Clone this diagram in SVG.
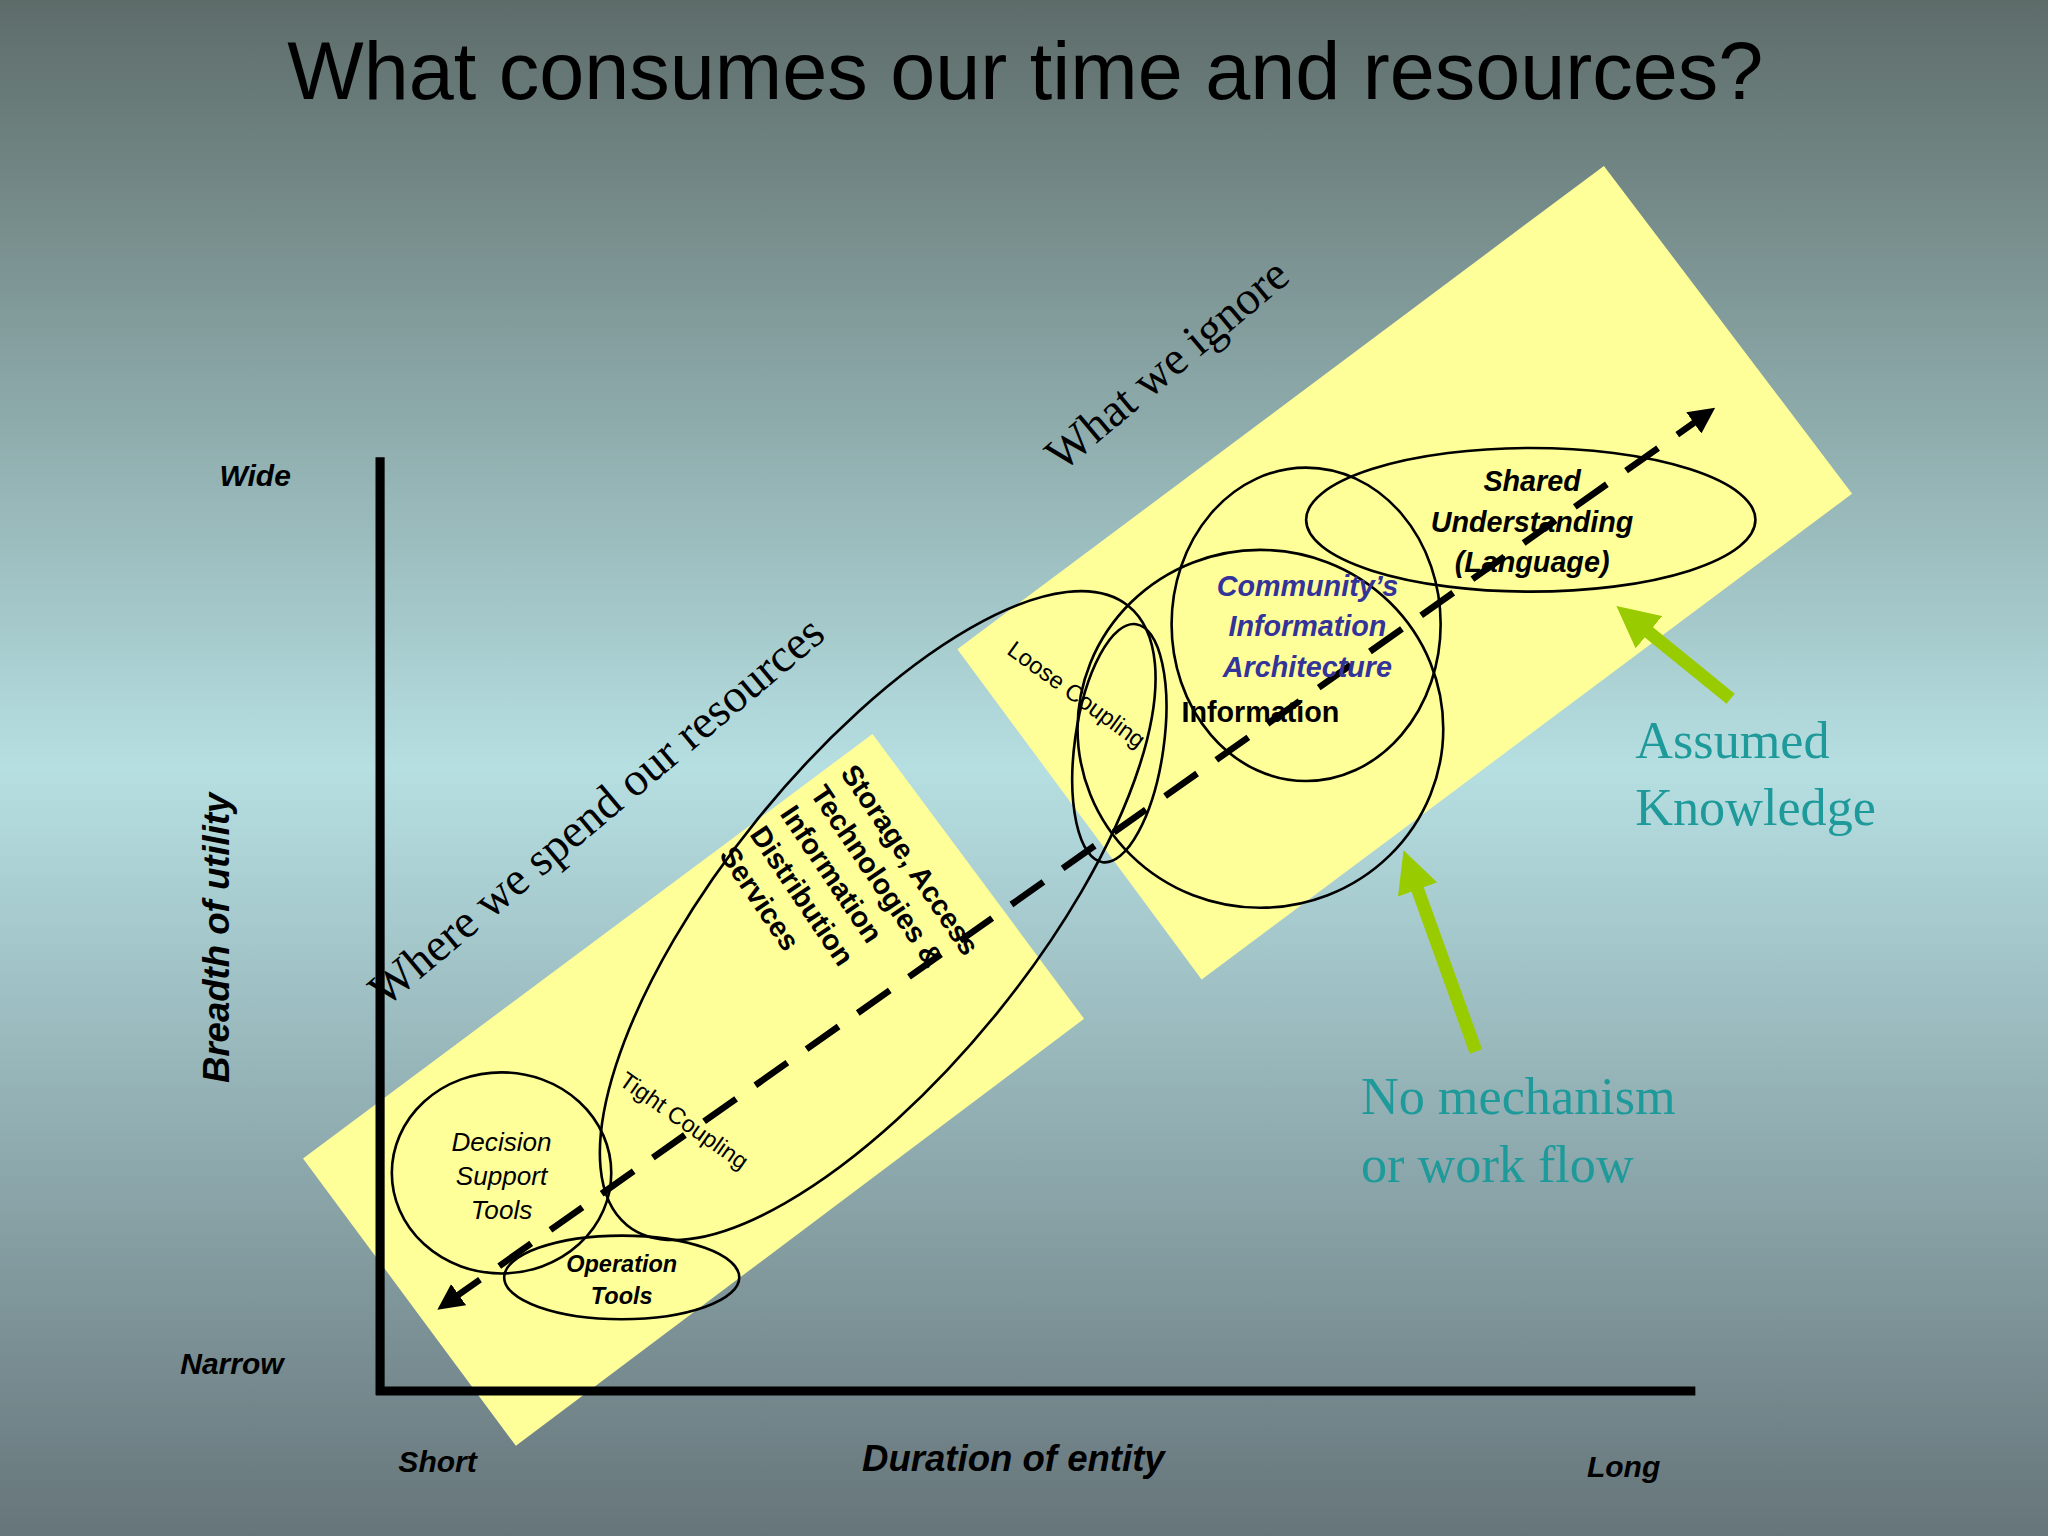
<svg xmlns="http://www.w3.org/2000/svg" width="2048" height="1536" viewBox="0 0 2048 1536">
<defs>
<linearGradient id="bg" x1="0" y1="0" x2="0" y2="1">
<stop offset="0" stop-color="#5d6c69"/>
<stop offset="0.5" stop-color="#b6dfe2"/>
<stop offset="1" stop-color="#66757a"/>
</linearGradient>
<marker id="ah" viewBox="0 0 10 10" refX="5" refY="5" markerWidth="4" markerHeight="4" orient="auto-start-reverse" markerUnits="strokeWidth"><path d="M0,0 L10,5 L0,10 z" fill="#000"/></marker>
<marker id="gh" viewBox="0 0 10 10" refX="5" refY="5" markerWidth="3.2" markerHeight="3.2" orient="auto" markerUnits="strokeWidth"><path d="M0,0 L10,5 L0,10 z" fill="#99cc00"/></marker>
<style>
.e{fill:none;stroke:#000;stroke-width:2}
.b{font-family:"Liberation Sans",Arial,sans-serif;font-weight:bold;font-style:italic}
.s{font-family:"Liberation Serif","Times New Roman",serif}
.t{font-family:"Liberation Serif","Times New Roman",serif;fill:#1f9a9a;font-size:40px}
</style>
</defs>
<rect width="2048" height="1536" fill="url(#bg)"/>
<g transform="scale(1.30612)">
<g id="bands">
<polygon points="232,887 668,562 830,780 395,1107" fill="#ffff99"/>
<polygon points="733,497 1228,127 1418,378 920,750" fill="#ffff99"/>
</g>
<text x="785" y="76" text-anchor="middle" font-family="Liberation Sans,Arial,sans-serif" font-size="62" fill="#000">What consumes our time and resources?</text>
<g id="axes" stroke="#000" stroke-width="7">
<line x1="291" y1="350" x2="291" y2="1068"/>
<line x1="288" y1="1065" x2="1298" y2="1065"/>
</g>
<g id="axis-labels" class="b" font-size="23">
<text x="168" y="372">Wide</text>
<text x="138" y="1052">Narrow</text>
<text x="305" y="1127">Short</text>
<text x="1215" y="1131">Long</text>
<text x="660" y="1126" font-size="28">Duration of entity</text>
<text transform="translate(175,718) rotate(-90)" text-anchor="middle" font-size="28">Breadth of utility</text>
</g>
<g id="connectors">
<line x1="343" y1="997" x2="1305" y2="318" stroke="#000" stroke-width="5" stroke-dasharray="30 18" marker-start="url(#ah)" marker-end="url(#ah)"/>
<line x1="1325" y1="535" x2="1250" y2="474" stroke="#99cc00" stroke-width="10" marker-end="url(#gh)"/>
<line x1="1130" y1="805" x2="1080" y2="666" stroke="#99cc00" stroke-width="10" marker-end="url(#gh)"/>
</g>
<g id="decision"><ellipse class="e" cx="384" cy="898" rx="84" ry="77"/>
<text text-anchor="middle" font-family="Liberation Sans,Arial,sans-serif" font-style="italic" font-size="20"><tspan x="384" y="881">Decision</tspan><tspan x="384" y="907">Support</tspan><tspan x="384" y="933">Tools</tspan></text></g>
<g id="operation"><ellipse class="e" cx="476" cy="978" rx="90" ry="32"/>
<text class="b" text-anchor="middle" font-size="18"><tspan x="476" y="974">Operation</tspan><tspan x="476" y="998">Tools</tspan></text></g>
<g id="storage"><ellipse class="e" cx="672" cy="701" rx="305" ry="118" transform="rotate(-51 672 701)"/>
<text transform="translate(643,592) rotate(56)" font-family="Liberation Sans,Arial,sans-serif" font-weight="bold" font-size="22"><tspan x="0" y="0">Storage, Access</tspan><tspan x="0" y="28">Technologies &amp;</tspan><tspan x="0" y="56">Information</tspan><tspan x="0" y="84">Distribution</tspan><tspan x="0" y="112">Services</tspan></text>
<text transform="translate(473,830) rotate(35)" font-family="Liberation Sans,Arial,sans-serif" font-size="18">Tight Coupling</text></g>
<g id="loose"><ellipse class="e" cx="857" cy="569" rx="34" ry="92" transform="rotate(8 857 569)"/>
<text transform="translate(770,500) rotate(36)" font-family="Liberation Sans,Arial,sans-serif" font-size="18">Loose Coupling</text></g>
<g id="information"><ellipse class="e" cx="965" cy="558" rx="140" ry="137"/>
<text x="965" y="553" text-anchor="middle" font-family="Liberation Sans,Arial,sans-serif" font-weight="bold" font-size="22">Information</text></g>
<g id="community"><ellipse class="e" cx="1000" cy="478" rx="103" ry="120"/>
<text class="b" text-anchor="middle" font-size="22" fill="#333399"><tspan x="1001" y="456">Community’s</tspan><tspan x="1001" y="487">Information</tspan><tspan x="1001" y="518">Architecture</tspan></text></g>
<g id="shared"><ellipse class="e" cx="1172" cy="398" rx="172" ry="55"/>
<text class="b" text-anchor="middle" font-size="22"><tspan x="1173" y="376">Shared</tspan><tspan x="1173" y="407">Understanding</tspan><tspan x="1173" y="438">(Language)</tspan></text></g>
<text class="s" font-size="36" transform="translate(295,772) rotate(-40)">Where we spend our resources</text>
<text class="s" font-size="36" transform="translate(813,362) rotate(-40)">What we ignore</text>
<text class="t"><tspan x="1252" y="580">Assumed</tspan><tspan x="1252" y="632">Knowledge</tspan></text>
<text class="t"><tspan x="1042" y="853">No mechanism</tspan><tspan x="1042" y="905">or work flow</tspan></text>
</g>
</svg>
